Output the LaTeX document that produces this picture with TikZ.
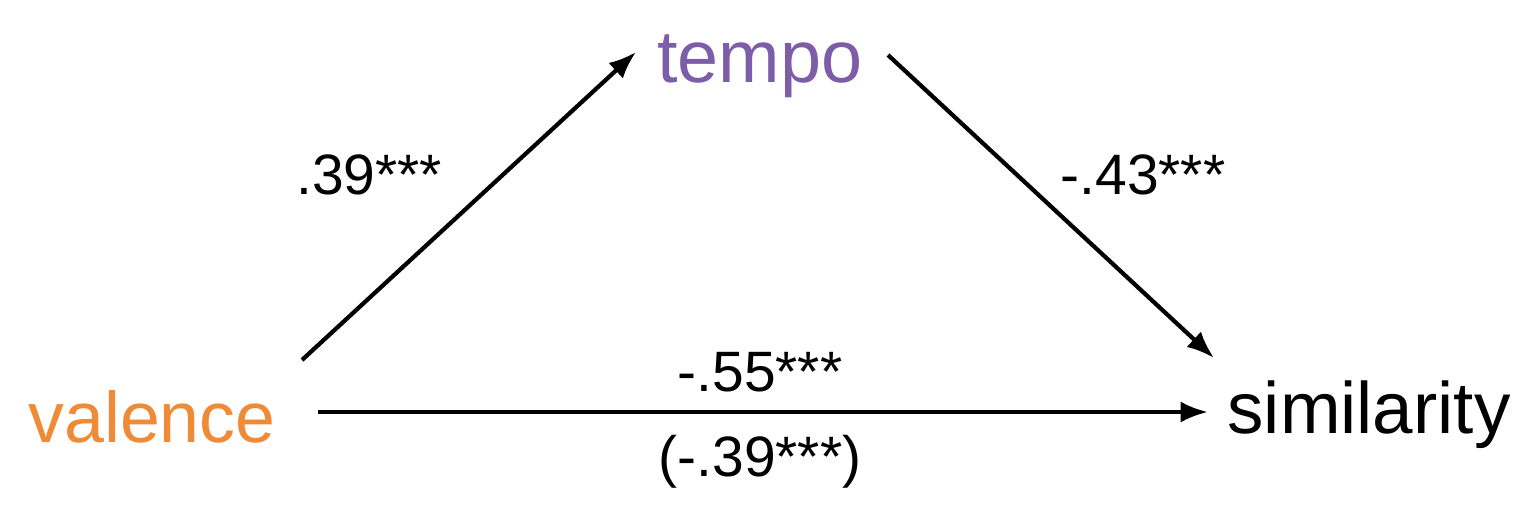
\documentclass[tikz,border=0pt]{standalone}
\usepackage{fontspec}
\setmainfont{Liberation Sans}
\usetikzlibrary{arrows.meta}
\definecolor{valorange}{HTML}{EF8A37}
\definecolor{tempopurple}{HTML}{7D5DA8}
\tikzset{
  var/.style={inner sep=0pt, anchor=base},
  coef/.style={inner sep=0pt, font=\fontsize{27}{30}\selectfont},
  path/.style={line width=2pt, -{Latex[length=13pt,width=10pt]}}
}
\begin{document}
\begin{tikzpicture}[x={(0.016667cm,0)}, y={(0,-0.016667cm)}]
  % Bounding box
  \useasboundingbox (0,0) rectangle (1536,524);

  % Variables
  \node[var, valorange, font=\fontsize{34}{38}\selectfont] (valence) at (152,442) {valence};
  \node[var, tempopurple, font=\fontsize{35}{39}\selectfont] (tempo) at (760,82) {tempo};
  \node[var, font=\fontsize{34.5}{38}\selectfont] (similarity) at (1369,433) {similarity};

  % Arrow ends
  \coordinate (a1) at (302,360);
  \coordinate (b1) at (636,52);
  \coordinate (a2) at (888,55);
  \coordinate (b2) at (1214,358);
  \coordinate (a3) at (318,412);
  \coordinate (b3) at (1208,412);

  % Paths
  \draw[path] (a1) -- (b1);
  \draw[path] (a2) -- (b2);
  \draw[path] (a3) -- (b3);

  % Coefficients
  \node[coef] (c1) at (369,175) {.39***};
  \node[coef] (c2) at (1143,175) {-.43***};
  \node[coef] (c3) at (760,372) {-.55***};
  \node[coef] (c4) at (760,462) {(-.39***)};
\end{tikzpicture}
\end{document}
